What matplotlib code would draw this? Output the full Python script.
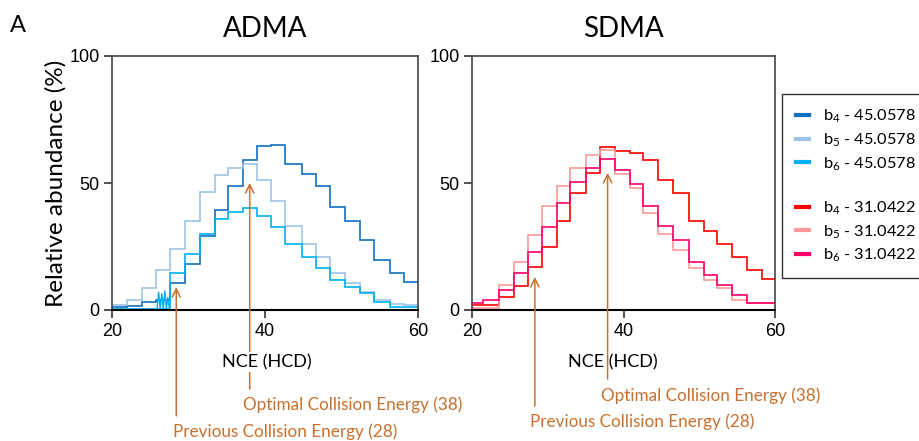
import matplotlib
matplotlib.use("Agg")
import matplotlib.pyplot as plt

plt.rcParams['font.family'] = ['Lato', 'DejaVu Sans']
plt.rcParams['mathtext.fontset'] = 'custom'
plt.rcParams['mathtext.rm'] = 'Lato'
plt.rcParams['mathtext.it'] = 'Lato:italic'

# ---- data (step edges in NCE, levels in %) ----
adma_edges = [20, 21.9, 23.9, 25.8, 27.6, 29.5, 31.5, 33.4, 35.2, 37.1, 38.9,
              40.8, 42.6, 44.8, 46.7, 48.5, 50.4, 52.4, 54.3, 56.3, 58.2, 60]
adma_b4 = [1, 1.5, 3, 4, 10.7, 18, 29, 39.5, 49, 59, 64.5,
           65, 57.5, 53.5, 49, 40.5, 35, 27.5, 19.5, 14.5, 11]
adma_b5 = [2, 4, 8.5, 15.7, 24, 35, 46.5, 53, 56, 57.5, 51,
           43, 33, 26, 21, 14.4, 10.5, 7.2, 4, 2.2, 2]
adma_b6 = [0.3, 0.3, 0.5, 0.5, 14.4, 22, 30, 36, 38.6, 40, 37,
           32.7, 26, 21, 16.4, 11.8, 9, 6.5, 3.3, 1.3, 1.3]
# noisy spikes of b6 just before the 27.6 step
spike_x = [25.9, 26.1, 26.3, 26.5, 26.7, 26.9, 27.1, 27.3, 27.5]
spike_y = [0.5, 7, 0.3, 6.5, 0.5, 7.5, 0.3, 5, 0.5]

sdma_edges = [20, 21.5, 23.5, 25.5, 27.4, 29.3, 31.2, 32.9, 35, 36.9, 38.9,
              40.9, 42.6, 44.6, 46.6, 48.6, 50.6, 52.3, 54.3, 56.3, 58.3, 60]
sdma_b4 = [2, 2, 5.2, 9.5, 17, 25, 35, 46, 54, 64, 62.5,
           62, 59, 51, 46, 35, 31, 26, 21, 15.7, 12.4]
sdma_b5 = [0.7, 0.7, 9.8, 19, 29.5, 41, 49, 56, 61, 63, 53.7,
           48, 38, 30, 23.5, 16.4, 11.8, 8.5, 4, 2.6, 2.6]
sdma_b6 = [2.6, 4, 7.9, 14.4, 23, 32.7, 42, 50.4, 56, 59.5, 55,
           49.7, 41, 33, 27.5, 19, 13.7, 9.8, 5.9, 2.6, 2.6]

adma_labels = [r'b$_4$ - 45.0578', r'b$_5$ - 45.0578', r'b$_6$ - 45.0578']
sdma_labels = [r'b$_4$ - 31.0422', r'b$_5$ - 31.0422', r'b$_6$ - 31.0422']
adma_colors = ['#1070c0', '#9dc3e6', '#00b0f0']
sdma_colors = ['#ff0000', '#ff9999', '#ff0066']

# arrows: (NCE, head y, tail y)
adma_prev = (28.4, 9, -41.7)
adma_opt = (38, 50, -31.1)
sdma_prev = (28.3, 13, -37.8)
sdma_opt = (37.9, 54, -27.2)

orange = '#c8702f'
W, H = 920, 441

fig = plt.figure(figsize=(W / 100, H / 100), dpi=100)
ax1 = fig.add_axes([112 / W, 1 - 310 / H, 306 / W, 254 / H])
ax2 = fig.add_axes([472 / W, 1 - 310 / H, 303 / W, 254 / H])


def style(ax, title):
    ax.set_xlim(20, 60)
    ax.set_ylim(0, 100)
    ax.set_xticks([20, 40, 60])
    ax.set_yticks([0, 50, 100])
    ax.tick_params(labelsize=13, length=6, width=1.2, color='#333333', pad=3)
    for lab in ax.get_xticklabels() + ax.get_yticklabels():
        lab.set_family(['Liberation Sans'])
    for s in ['left', 'top', 'right']:
        ax.spines[s].set_color('#444444')
        ax.spines[s].set_linewidth(1.2)
    ax.spines['bottom'].set_color('black')
    ax.spines['bottom'].set_linewidth(1.5)
    ax.set_title(title, fontsize=20, pad=14)


def arrow(ax, a):
    x, yh, yt = a
    ax.annotate('', xy=(x, yh), xytext=(x, yt), annotation_clip=False,
                arrowprops=dict(arrowstyle='->,head_length=0.6,head_width=0.3',
                                color=orange, lw=1.1, shrinkA=0, shrinkB=0))


for lv, c in zip([adma_b4, adma_b5, adma_b6], adma_colors):
    ax1.stairs(lv, adma_edges, baseline=None, color=c, lw=1.2)
ax1.plot(spike_x, spike_y, color=adma_colors[2], lw=1.0)

for lv, c in zip([sdma_b4, sdma_b5, sdma_b6], sdma_colors):
    ax2.stairs(lv, sdma_edges, baseline=None, color=c, lw=1.2)

style(ax1, 'ADMA')
style(ax2, 'SDMA')
ax1.set_ylabel('Relative abundance (%)', fontsize=17.5, labelpad=2)

arrow(ax1, adma_prev)
arrow(ax1, adma_opt)
arrow(ax2, sdma_prev)
arrow(ax2, sdma_opt)


def ftext(px, py, s, **kw):
    return fig.text(px / W, 1 - py / H, s, va='center', **kw)


ftext(267, 362, 'NCE (HCD)', ha='center', fontsize=13,
      bbox=dict(facecolor='white', edgecolor='none', pad=1))
ftext(613, 362, 'NCE (HCD)', ha='center', fontsize=13)
ftext(243, 405, 'Optimal Collision Energy (38)', ha='left', fontsize=12.3, color=orange)
ftext(173, 432, 'Previous Collision Energy (28)', ha='left', fontsize=12.3, color=orange)
ftext(601, 396, 'Optimal Collision Energy (38)', ha='left', fontsize=12.3, color=orange)
ftext(530, 422, 'Previous Collision Energy (28)', ha='left', fontsize=12.3, color=orange)
ftext(10, 25, 'A', ha='left', fontsize=17)

leg_handles = [plt.Line2D([], [], color=c, lw=3) for c in adma_colors]
leg_handles.append(plt.Line2D([], [], color='none'))
leg_handles += [plt.Line2D([], [], color=c, lw=3) for c in sdma_colors]
leg = fig.legend(leg_handles, adma_labels + [' '] + sdma_labels,
                 loc='upper left', bbox_to_anchor=(782 / W, 1 - 94 / H),
                 fontsize=11.8, frameon=True, fancybox=False, handlelength=0.8,
                 handletextpad=0.85, labelspacing=0.38, borderpad=0.85,
                 borderaxespad=0)
leg.get_frame().set_edgecolor('black')
leg.get_frame().set_linewidth(1.0)

fig.savefig('out.png', dpi=100)
